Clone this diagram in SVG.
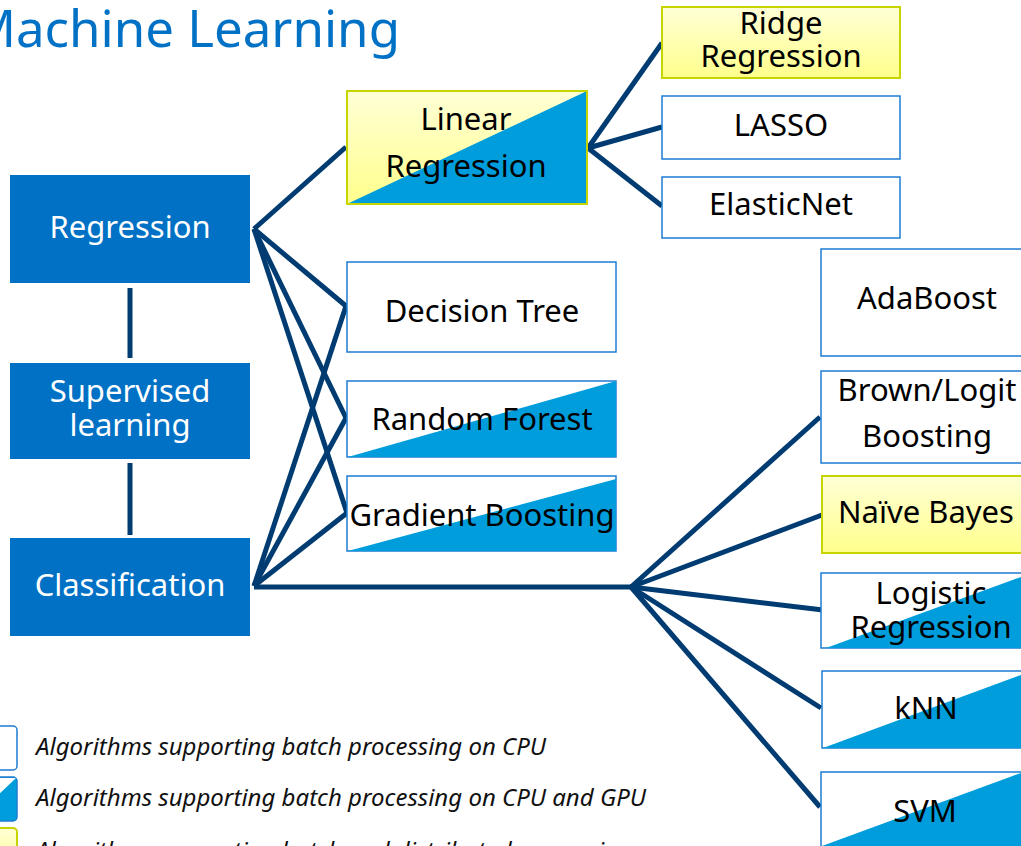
<svg xmlns="http://www.w3.org/2000/svg" width="1021" height="846" viewBox="0 0 1021 846">
  <defs>
    <linearGradient id="yellowFill" x1="0" y1="0" x2="0" y2="1">
      <stop offset="0" stop-color="#ffffd6"/>
      <stop offset="1" stop-color="#ffff8c"/>
    </linearGradient>
    <style>
      .cat { fill: #0071c5; }
      .cat-text { font-family: "Noto Sans", "Open Sans", sans-serif; font-size: 31px; fill: #ffffff; text-anchor: middle; }
      .algo { fill: #ffffff; stroke: #1c7cd0; stroke-width: 1.5; }
      .algo-y { fill: url(#yellowFill); stroke: #c6d500; stroke-width: 2; }
      .gpu { fill: #009ddc; }
      .label { font-family: "Noto Sans", "Open Sans", sans-serif; font-size: 31px; fill: #000000; text-anchor: middle; }
      .link { stroke: #003c71; stroke-width: 5; fill: none; stroke-linecap: butt; }
      .legend-text { font-family: "Noto Sans", "Open Sans", sans-serif; font-size: 24px; font-style: italic; fill: #111111; }
      .title { font-family: "Noto Sans", "Open Sans", sans-serif; font-size: 51px; fill: #0071c5; }
    </style>
  </defs>

  <rect width="1021" height="846" fill="#ffffff"/>

  <text class="title" x="400" y="47" text-anchor="end">Machine Learning</text>

  <!-- connectors -->
  <g id="connectors">
    <line class="link" x1="130" y1="288" x2="130" y2="358"/>
    <line class="link" x1="130" y1="463" x2="130" y2="535"/>
    <!-- from Regression -->
    <line class="link" x1="254" y1="229" x2="346" y2="147"/>
    <line class="link" x1="254" y1="229" x2="346" y2="306"/>
    <line class="link" x1="254" y1="229" x2="346" y2="418"/>
    <line class="link" x1="254" y1="229" x2="347" y2="513"/>
    <!-- from Classification -->
    <line class="link" x1="254" y1="586" x2="346" y2="306"/>
    <line class="link" x1="254" y1="586" x2="346" y2="418"/>
    <line class="link" x1="254" y1="586" x2="347" y2="513"/>
    <line class="link" x1="254" y1="587" x2="633" y2="587"/>
    <!-- from Linear Regression -->
    <line class="link" x1="588" y1="148" x2="662" y2="43"/>
    <line class="link" x1="588" y1="148" x2="662" y2="127"/>
    <line class="link" x1="588" y1="148" x2="662" y2="206"/>
    <!-- classification fan -->
    <line class="link" x1="631" y1="587" x2="820" y2="417"/>
    <line class="link" x1="631" y1="587" x2="822" y2="515"/>
    <line class="link" x1="631" y1="587" x2="823" y2="610"/>
    <line class="link" x1="631" y1="587" x2="821" y2="708"/>
    <line class="link" x1="631" y1="587" x2="820" y2="807"/>
  </g>

  <!-- categories -->
  <g id="regression">
    <rect class="cat" x="10" y="175" width="240" height="108"/>
    <text class="cat-text" x="130" y="238">Regression</text>
  </g>
  <g id="supervised-learning">
    <rect class="cat" x="10" y="363" width="240" height="96"/>
    <text class="cat-text" x="130" y="402">Supervised</text>
    <text class="cat-text" x="130" y="436">learning</text>
  </g>
  <g id="classification">
    <rect class="cat" x="10" y="538" width="240" height="98"/>
    <text class="cat-text" x="130" y="596">Classification</text>
  </g>

  <!-- regression algorithms -->
  <g id="linear-regression">
    <rect class="algo-y" x="347" y="91" width="240" height="113"/>
    <polygon class="gpu" points="347,204 587,91 587,204"/>
    <rect x="347" y="91" width="240" height="113" fill="none" stroke="#c6d500" stroke-width="2"/>
    <text class="label" x="466" y="130">Linear</text>
    <text class="label" x="466" y="177">Regression</text>
  </g>
  <g id="ridge-regression">
    <rect class="algo-y" x="662" y="7" width="238" height="71"/>
    <text class="label" x="781" y="34">Ridge</text>
    <text class="label" x="781" y="67">Regression</text>
  </g>
  <g id="lasso">
    <rect class="algo" x="662" y="96" width="238" height="63"/>
    <text class="label" x="781" y="136">LASSO</text>
  </g>
  <g id="elasticnet">
    <rect class="algo" x="662" y="177" width="238" height="61"/>
    <text class="label" x="781" y="215">ElasticNet</text>
  </g>

  <!-- tree algorithms -->
  <g id="decision-tree">
    <rect class="algo" x="347" y="262" width="269" height="90"/>
    <text class="label" x="482" y="322">Decision Tree</text>
  </g>
  <g id="random-forest">
    <rect class="algo" x="347" y="381" width="269" height="76"/>
    <polygon class="gpu" points="348,457 616,381 616,457"/>
    <text class="label" x="482" y="430">Random Forest</text>
  </g>
  <g id="gradient-boosting">
    <rect class="algo" x="347" y="476" width="269" height="75"/>
    <polygon class="gpu" points="348,551 616,479 616,551"/>
    <text class="label" x="482" y="526">Gradient Boosting</text>
  </g>

  <!-- classification algorithms -->
  <g id="adaboost">
    <rect class="algo" x="821" y="249" width="230" height="107"/>
    <text class="label" x="927" y="309">AdaBoost</text>
  </g>
  <g id="brown-logit-boosting">
    <rect class="algo" x="821" y="371" width="230" height="92"/>
    <text class="label" x="927" y="401">Brown/Logit</text>
    <text class="label" x="927" y="447">Boosting</text>
  </g>
  <g id="naive-bayes">
    <rect class="algo-y" x="822" y="476" width="230" height="77"/>
    <text class="label" x="926" y="523">Naïve Bayes</text>
  </g>
  <g id="logistic-regression">
    <rect class="algo" x="821" y="573" width="230" height="75"/>
    <polygon class="gpu" points="826,648 1021,577 1021,648"/>
    <text class="label" x="931" y="604">Logistic</text>
    <text class="label" x="931" y="638">Regression</text>
  </g>
  <g id="knn">
    <rect class="algo" x="822" y="671" width="230" height="77"/>
    <polygon class="gpu" points="823,748 1021,675 1021,748"/>
    <text class="label" x="926" y="719">kNN</text>
  </g>
  <g id="svm">
    <rect class="algo" x="821" y="772" width="230" height="80"/>
    <polygon class="gpu" points="822,846 1021,773 1021,846"/>
    <text class="label" x="925" y="822">SVM</text>
  </g>

  <!-- legend -->
  <g id="legend">
    <rect x="-8" y="726" width="25" height="44" rx="4" fill="#ffffff" stroke="#1c7cd0" stroke-width="1.5"/>
    <text class="legend-text" x="36" y="755">Algorithms supporting batch processing on CPU</text>
    <rect x="-8" y="777" width="25" height="44" rx="4" fill="#009ddc" stroke="#1c7cd0" stroke-width="1.5"/>
    <polygon points="-7,800 16,778 -7,778" fill="#ffffff"/>
    <text class="legend-text" x="36" y="806">Algorithms supporting batch processing on CPU and GPU</text>
    <rect x="-8" y="828" width="25" height="44" rx="4" fill="url(#yellowFill)" stroke="#c6d500" stroke-width="2"/>
    <text class="legend-text" x="36" y="859">Algorithms supporting batch and distributed processing</text>
  </g>
</svg>
